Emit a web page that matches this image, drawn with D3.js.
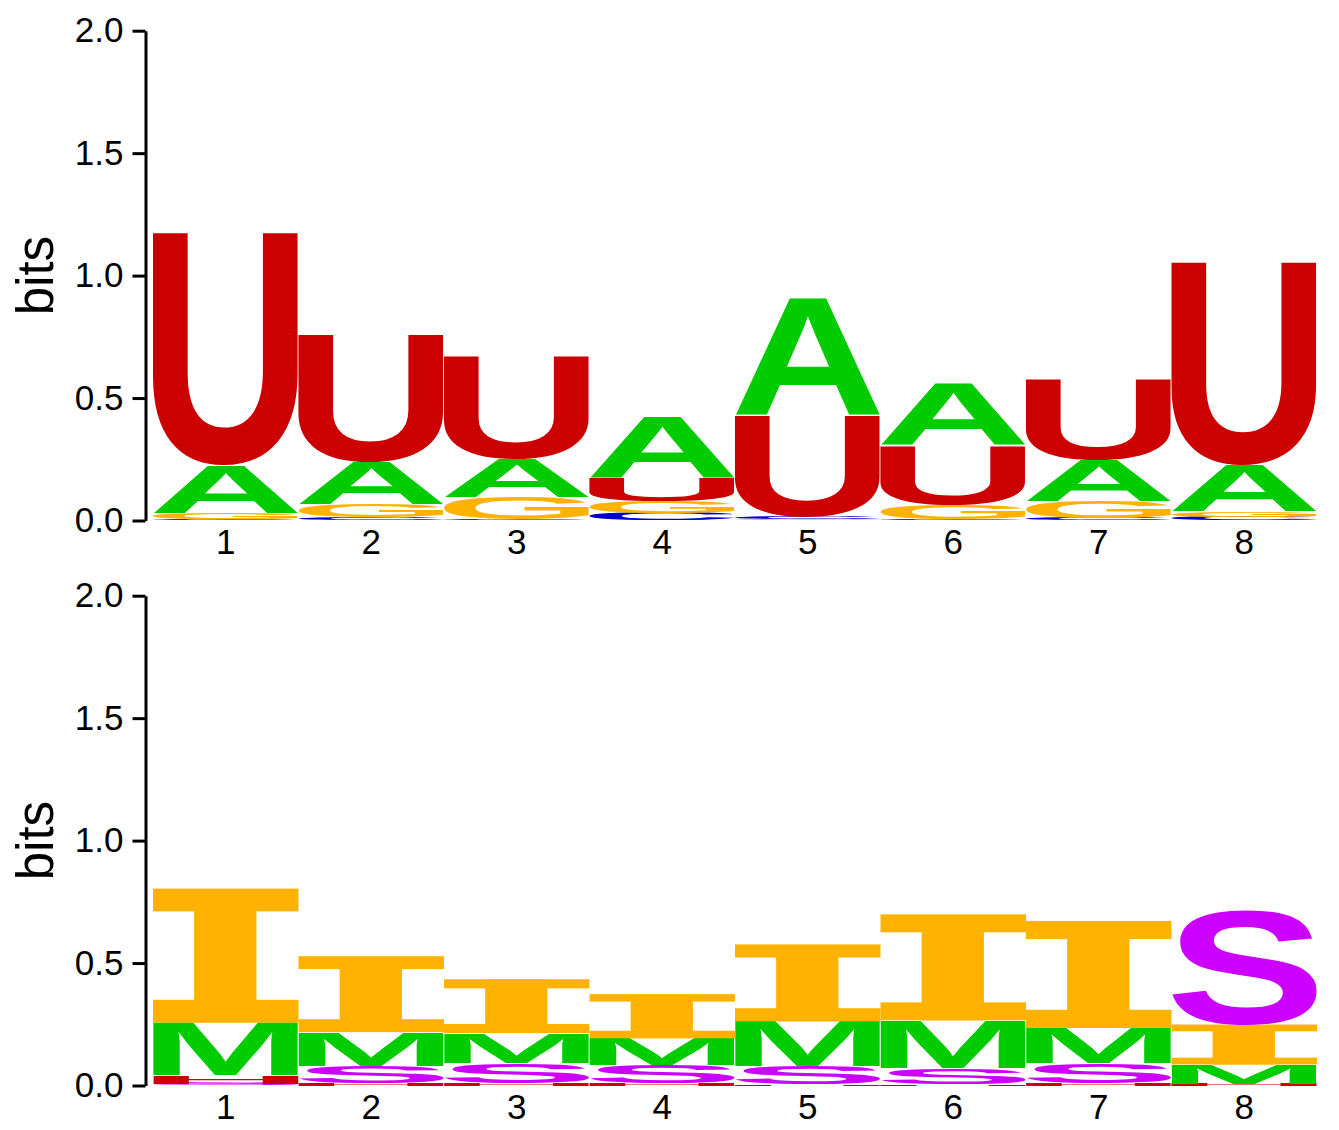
<!DOCTYPE html>
<html>
<head>
<meta charset="utf-8">
<script src="https://cdn.jsdelivr.net/npm/d3@7"></script>
<style>
  html, body { margin: 0; padding: 0; background: #fff; }
  svg { display: block; }
</style>
</head>
<body>
<svg id="chart" width="1339" height="1130"></svg>
<script>
// ---- data ----
const positions = ["1", "2", "3", "4", "5", "6", "7", "8"];
const yTicks = [0, 0.5, 1.0, 1.5, 2.0];

// panel 1: nucleotides (bits)
const nucLetters = ["A", "C", "G", "U"];
const nucA = [0.195, 0.176, 0.155, 0.245, 0.478, 0.250, 0.167, 0.190];
const nucC = [0.006, 0.012, 0.005, 0.030, 0.008, 0.005, 0.008, 0.016];
const nucG = [0.025, 0.053, 0.090, 0.050, 0.004, 0.060, 0.070, 0.020];
const nucU = [0.950, 0.518, 0.420, 0.094, 0.416, 0.240, 0.331, 0.829];
const nucColors = { A: "#00CC00", C: "#0000CC", G: "#FFB300", U: "#CC0000" };

// panel 2: structure context (bits)
const structLetters = ["H", "I", "M", "S"];
const structH = [0.033, 0.010, 0.010, 0.010, 0.005, 0.005, 0.010, 0.008];
const structI = [0.547, 0.310, 0.220, 0.180, 0.314, 0.433, 0.437, 0.163];
const structM = [0.216, 0.139, 0.122, 0.110, 0.184, 0.196, 0.143, 0.078];
const structS = [0.008, 0.069, 0.082, 0.073, 0.073, 0.065, 0.082, 0.470];
const structColors = { H: "#CC0000", I: "#FFB300", M: "#00CC00", S: "#CC00FF" };

// ---- layout ----
const svg = d3.select("#chart");
const plotLeft = 153, plotRight = 1317;
const axisX = 145.5;
const panels = [
  { top: 30.7, bottom: 520.5, letters: nucLetters, series: [nucA, nucC, nucG, nucU], colors: nucColors },
  { top: 595.7, bottom: 1085.5, letters: structLetters, series: [structH, structI, structM, structS], colors: structColors }
];

const sansFamily = "'Liberation Sans', Arial, sans-serif";

const ctx = document.createElement("canvas").getContext("2d");
ctx.font = "bold 200px " + sansFamily;
const metricsCache = {};
function glyph(ch) {
  if (!metricsCache[ch]) {
    const m = ctx.measureText(ch);
    metricsCache[ch] = {
      left: m.actualBoundingBoxLeft, right: m.actualBoundingBoxRight,
      ascent: m.actualBoundingBoxAscent, descent: m.actualBoundingBoxDescent
    };
  }
  return metricsCache[ch];
}

// draw a glyph so that its ink fills the box [bx, bx+bw] x [by, by+bh]
function drawGlyph(g, ch, color, bx, by, bw, bh) {
  const m = glyph(ch);
  const sx = bw / (m.left + m.right);
  const sy = bh / (m.ascent + m.descent);
  g.append("text")
    .attr("font-family", sansFamily)
    .attr("font-weight", "bold")
    .attr("font-size", 200)
    .attr("fill", color)
    .attr("transform", `translate(${bx + m.left * sx},${by + m.ascent * sy}) scale(${sx},${sy})`)
    .text(ch);
}

const x = d3.scaleBand().domain(positions).range([plotLeft, plotRight]).padding(0);

panels.forEach(p => {
  const y = d3.scaleLinear().domain([0, 2]).range([p.bottom, p.top]);
  const g = svg.append("g");

  // letters
  positions.forEach((pos, i) => {
    const stack = p.letters.map((l, k) => ({ letter: l, bits: p.series[k][i] }))
      .sort((a, b) => a.bits - b.bits);
    let base = 0;
    stack.forEach(d => {
      const y0 = y(base), y1 = y(base + d.bits);
      base += d.bits;
      const h = y0 - y1;
      if (h <= 0.05) return;
      const w = x.bandwidth();
      const color = p.colors[d.letter];
      if (d.letter === "I") {
        // serif "I": stem glyph plus top and bottom bars
        const bar = h * 0.17;
        drawGlyph(g, "I", color, x(pos) + w * 0.277, y1, w * 0.446, h);
        g.append("rect").attr("x", x(pos)).attr("y", y1).attr("width", w).attr("height", bar).attr("fill", color);
        g.append("rect").attr("x", x(pos)).attr("y", y0 - bar).attr("width", w).attr("height", bar).attr("fill", color);
      } else {
        drawGlyph(g, d.letter, color, x(pos), y1, w, h);
      }
    });
  });

  // y axis
  const yAxis = d3.axisLeft(y).tickValues(yTicks).tickFormat(d3.format(".1f"))
    .tickSizeInner(13).tickSizeOuter(0).tickPadding(9);
  const ya = g.append("g").attr("transform", `translate(${axisX},0)`).call(yAxis);
  ya.select(".domain").attr("stroke", "#000").attr("stroke-width", 3);
  ya.selectAll(".tick line").attr("stroke", "#000").attr("stroke-width", 3);
  ya.selectAll(".tick text").attr("font-family", sansFamily)
    .attr("font-size", 35).attr("fill", "#000");

  // x axis labels
  const xAxis = d3.axisBottom(x).tickSize(0).tickPadding(9);
  const xa = g.append("g").attr("transform", `translate(0,${p.bottom})`).call(xAxis);
  xa.select(".domain").remove();
  xa.selectAll(".tick text").attr("font-family", sansFamily)
    .attr("font-size", 35).attr("fill", "#000");

  // y label
  g.append("text")
    .attr("transform", `translate(53,${(p.top + p.bottom) / 2}) rotate(-90)`)
    .attr("text-anchor", "middle")
    .attr("font-family", sansFamily)
    .attr("font-size", 51)
    .attr("fill", "#000")
    .text("bits");
});
</script>
</body>
</html>
